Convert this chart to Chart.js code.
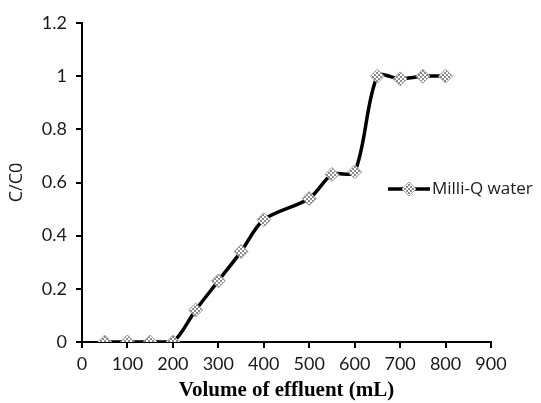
<!DOCTYPE html>
<html>
<head>
<meta charset="utf-8">
<script src="https://cdn.jsdelivr.net/npm/chart.js@4"></script>
<style>
  body { margin: 0; background: #fff; }
  #wrap { width: 541px; height: 403px; }
</style>
</head>
<body>
<div id="wrap"><canvas id="chart" width="541" height="403"></canvas></div>
<script>
// data
const volumes = [50, 100, 150, 200, 250, 300, 350, 400, 500, 550, 600, 650, 700, 750, 800];
const ratios = [0, 0, 0, 0, 0.12, 0.23, 0.34, 0.46, 0.54, 0.63, 0.64, 1.0, 0.99, 1.0, 1.0];
const xTicks = [0, 100, 200, 300, 400, 500, 600, 700, 800, 900];
const yTicks = [0, 0.2, 0.4, 0.6, 0.8, 1, 1.2];
const seriesName = 'Milli-Q water';

// checkered gray fill for the diamond markers
function makePattern() {
  const c = document.createElement('canvas');
  c.width = 4;
  c.height = 4;
  const g = c.getContext('2d');
  g.fillStyle = '#ffffff';
  g.fillRect(0, 0, 4, 4);
  g.fillStyle = '#8c8c8c';
  g.fillRect(0, 0, 2, 2);
  g.fillRect(2, 2, 2, 2);
  return g.createPattern(c, 'repeat');
}
const markerFill = makePattern();
const markerEdge = '#a0a0a0';

// legend sits inside the plot, to the right of the curve
const sideLegend = {
  id: 'sideLegend',
  afterDraw(chart) {
    const ctx = chart.ctx;
    const x0 = chart.width - 153;
    const y = chart.chartArea.top + 166;
    ctx.save();
    ctx.strokeStyle = '#000';
    ctx.lineWidth = 3.5;
    ctx.beginPath();
    ctx.moveTo(x0, y);
    ctx.lineTo(x0 + 42, y);
    ctx.stroke();
    ctx.fillStyle = markerFill;
    ctx.strokeStyle = markerEdge;
    ctx.lineWidth = 1;
    ctx.beginPath();
    ctx.moveTo(x0 + 21, y - 7);
    ctx.lineTo(x0 + 28, y);
    ctx.lineTo(x0 + 21, y + 7);
    ctx.lineTo(x0 + 14, y);
    ctx.closePath();
    ctx.fill();
    ctx.stroke();
    ctx.fillStyle = '#1a1a1a';
    ctx.font = '17px "Open Sans"';
    ctx.textBaseline = 'middle';
    ctx.fillText(seriesName, x0 + 44, y);
    ctx.restore();
  }
};

new Chart(document.getElementById('chart'), {
  type: 'line',
  data: {
    datasets: [{
      label: seriesName,
      data: volumes.map(function(v, i) { return { x: v, y: ratios[i] }; }),
      borderColor: '#000',
      borderWidth: 3.5,
      tension: 0.3,
      pointStyle: 'rectRot',
      pointRadius: 7,
      pointBorderWidth: 1,
      pointBorderColor: markerEdge,
      pointBackgroundColor: markerFill
    }]
  },
  options: {
    responsive: false,
    animation: false,
    layout: { padding: { top: 23, right: 50, left: 0, bottom: 0 } },
    plugins: {
      legend: { display: false },
      tooltip: { enabled: false }
    },
    scales: {
      x: {
        type: 'linear',
        min: 0,
        max: 900,
        afterBuildTicks: function(s) { s.ticks = xTicks.map(function(v) { return { value: v }; }); },
        afterFit: function(s) { s.height = 61; },
        border: { color: '#000', width: 2 },
        grid: { drawOnChartArea: false, drawTicks: true, tickLength: 6, color: '#000', lineWidth: 2 },
        ticks: {
          color: '#1a1a1a',
          font: { family: 'Lato', size: 18 },
          padding: 5,
          maxRotation: 0,
          callback: function(v) { return String(v); }
        },
        title: {
          display: true,
          text: 'Volume of effluent (mL)',
          color: '#000',
          font: { family: 'Liberation Serif', size: 21, weight: 'bold' },
          padding: { top: 0, bottom: 0 }
        }
      },
      y: {
        min: 0,
        max: 1.2,
        afterBuildTicks: function(s) { s.ticks = yTicks.map(function(v) { return { value: v }; }); },
        afterFit: function(s) { s.width = 82; },
        border: { color: '#000', width: 2 },
        grid: { drawOnChartArea: false, drawTicks: true, tickLength: 6, color: '#000', lineWidth: 2 },
        ticks: {
          color: '#1a1a1a',
          font: { family: 'Lato', size: 18 },
          padding: 9,
          callback: function(v) { return String(v); }
        },
        title: {
          display: true,
          text: 'C/C0',
          color: '#1a1a1a',
          font: { family: 'Open Sans', size: 18 },
          padding: { top: 6, bottom: 0 }
        }
      }
    }
  },
  plugins: [sideLegend]
});
</script>
</body>
</html>
